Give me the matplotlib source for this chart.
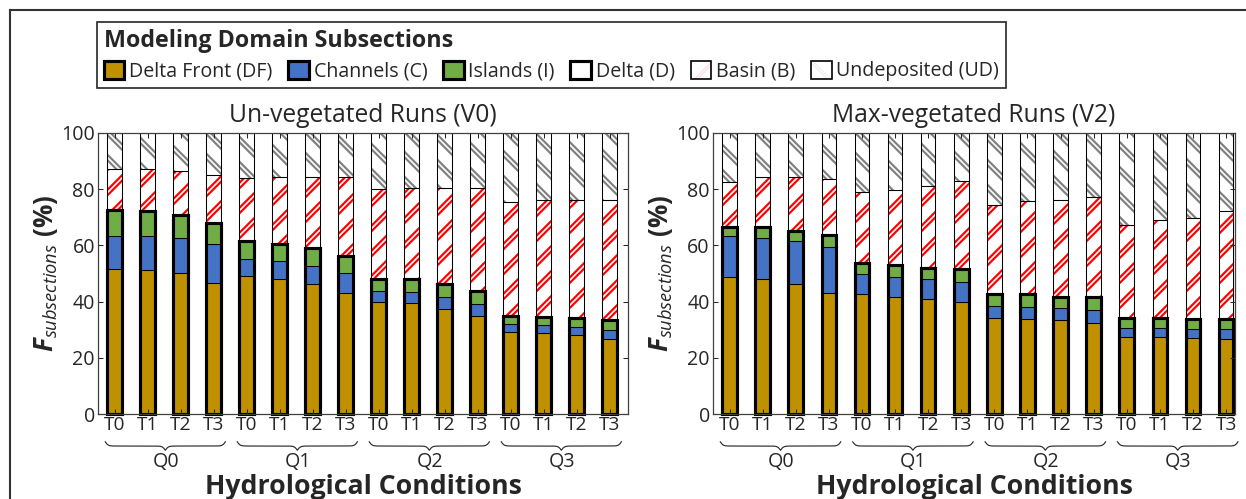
import numpy as np
import matplotlib
matplotlib.use('Agg')
import matplotlib.pyplot as plt
from matplotlib.patches import Patch
from matplotlib.legend_handler import HandlerTuple
from matplotlib.lines import Line2D
import matplotlib.transforms as mtransforms

W, H, DPI = 1246, 499, 150
FONT = 'Open Sans'

plt.rcParams['font.family'] = [FONT, 'DejaVu Sans']
plt.rcParams['mathtext.fontset'] = 'custom'
plt.rcParams['mathtext.rm'] = FONT
plt.rcParams['mathtext.it'] = FONT + ':italic'
plt.rcParams['mathtext.bf'] = FONT + ':bold'
try:
    plt.rcParams['mathtext.bfit'] = FONT + ':italic:bold'
except KeyError:
    pass

# ---------------- data ----------------
hydro_groups = ['Q0', 'Q1', 'Q2', 'Q3']
time_labels = ['T0', 'T1', 'T2', 'T3']
tick_labels = time_labels * 4
panel_titles = ['Un-vegetated Runs (V0)', 'Max-vegetated Runs (V2)']
legend_labels = ['Delta Front (DF)', 'Channels (C)', 'Islands (I)',
                 'Delta (D)', 'Basin (B)', 'Undeposited (UD)']

# Un-vegetated (V0): segment sizes in %
v0_df = [51.7, 51.3, 50.1, 46.6, 49.2, 48.1, 46.3, 43.1, 40.0, 39.5, 37.5, 34.7, 29.3, 28.7, 28.0, 26.8]
v0_c = [11.7, 12.0, 12.5, 14.0, 6.0, 6.2, 6.2, 7.0, 3.9, 4.0, 4.1, 4.5, 2.8, 2.8, 2.9, 3.1]
v0_i = [9.3, 9.1, 8.3, 7.3, 6.5, 6.3, 6.6, 6.1, 4.2, 4.5, 4.7, 4.7, 2.9, 3.1, 3.2, 3.6]
v0_b = [14.6, 14.8, 15.7, 17.2, 22.3, 23.7, 25.3, 28.2, 31.8, 32.6, 34.3, 36.7, 40.5, 41.4, 42.2, 42.7]
v0_ud = [12.7, 12.8, 13.4, 14.9, 16.0, 15.7, 15.6, 15.6, 20.1, 19.4, 19.4, 19.4, 24.5, 24.0, 23.7, 23.8]

# Max-vegetated (V2): segment sizes in %
v2_df = [48.6, 48.1, 46.3, 43.0, 42.6, 41.8, 41.0, 39.7, 34.3, 33.8, 33.5, 32.3, 27.4, 27.3, 27.0, 26.6]
v2_c = [14.6, 14.6, 15.1, 16.3, 7.2, 7.1, 7.1, 7.4, 4.3, 4.4, 4.4, 4.7, 3.3, 3.2, 3.3, 3.6]
v2_i = [3.5, 3.7, 3.8, 4.5, 3.9, 4.1, 4.0, 4.6, 4.1, 4.4, 3.9, 4.8, 3.4, 3.6, 3.4, 3.5]
v2_b = [15.8, 17.8, 19.1, 19.7, 25.3, 26.8, 29.1, 31.3, 31.8, 33.3, 34.2, 35.5, 33.2, 35.0, 36.0, 38.4]
v2_ud = [17.5, 15.8, 15.7, 16.5, 21.0, 20.2, 18.8, 17.0, 25.5, 24.1, 24.0, 22.7, 32.7, 30.9, 30.3, 27.9]

# ---------------- style ----------------
GOLD = '#BF9000'
BLUE = '#4472C4'
GREEN = '#70AD47'
RED = '#FF0000'
GRAY = '#808080'
DARK = '#262626'
HATCH_WIDE = 2.9
HATCH_GAP = 0.8
BAR_W = 0.44
HATCH_B = '//'
HATCH_UD = '\\\\'


def set_hlw(patches, lw):
    for p in patches:
        if hasattr(p, 'set_hatch_linewidth'):
            p.set_hatch_linewidth(lw)


def double_hatch(ax, x, h, bottom, color, hatch):
    b1 = ax.bar(x, h, bottom=bottom, width=BAR_W, color='white', edgecolor=color,
                linewidth=0, hatch=hatch, zorder=1)
    set_hlw(b1, HATCH_WIDE)
    b2 = ax.bar(x, h, bottom=bottom, width=BAR_W, color='none', edgecolor='white',
                linewidth=0, hatch=hatch, zorder=1.1)
    set_hlw(b2, HATCH_GAP)
    ax.bar(x, h, bottom=bottom, width=BAR_W, fill=False, edgecolor='black',
           linewidth=0.5, zorder=1.2)


def brace(ax, x0, x1, y_top, depth, beta=22.0, n=301):
    trans = mtransforms.blended_transform_factory(ax.transData, ax.transAxes)
    xm = 0.5 * (x0 + x1)
    xa = np.linspace(x0, xm, n // 2 + 1)
    ya = 1.0 / (1.0 + np.exp(-beta * (xa - x0))) + 1.0 / (1.0 + np.exp(-beta * (xa - xm)))
    xs = np.concatenate([xa, (2 * xm - xa)[-2::-1]])
    ys = np.concatenate([ya, ya[-2::-1]])
    ys = y_top - (ys - 0.5) * depth
    ax.plot(xs, ys, transform=trans, color=DARK, lw=0.55, clip_on=False)


def draw_panel(ax, df, ch, isl, bas, ud, title, xlim):
    x = np.arange(len(df))
    df = np.array(df); ch = np.array(ch); isl = np.array(isl)
    bas = np.array(bas); ud = np.array(ud)
    ax.bar(x, df, width=BAR_W, color=GOLD, edgecolor='black', linewidth=0.5, zorder=1)
    ax.bar(x, ch, bottom=df, width=BAR_W, color=BLUE, edgecolor='black', linewidth=0.5, zorder=1)
    ax.bar(x, isl, bottom=df + ch, width=BAR_W, color=GREEN, edgecolor='black', linewidth=0.5, zorder=1)
    delta = df + ch + isl
    double_hatch(ax, x, bas, delta, RED, HATCH_B)
    double_hatch(ax, x, ud, delta + bas, GRAY, HATCH_UD)
    ax.bar(x, delta, width=BAR_W, fill=False, edgecolor='black', linewidth=1.5,
           zorder=1.5, clip_on=False)

    ax.set_xlim(*xlim)
    ax.set_ylim(0, 100)
    ax.set_xticks(x)
    ax.set_xticklabels(tick_labels)
    ax.set_yticks(np.arange(0, 101, 20))
    ax.tick_params(axis='x', direction='in', top=True, bottom=True, length=2.2,
                   width=0.5, pad=1.2, labelsize=9.2, color=DARK, labelcolor=DARK)
    ax.tick_params(axis='y', direction='in', left=True, right=True, length=2.2,
                   width=0.5, pad=1.5, labelsize=9.4, color=DARK, labelcolor=DARK)
    for s in ax.spines.values():
        s.set_color('#404040')
        s.set_linewidth(0.6)
    ax.set_title(title, fontsize=11.8, pad=5.5, color=DARK)
    ax.set_ylabel(r'$\mathbfit{F}_{\mathit{subsections}}\ \mathbf{(\%)}$',
                  fontsize=12.5, color=DARK)
    ax.yaxis.set_label_coords(-0.072, 0.5)
    ax.set_xlabel('Hydrological Conditions', fontsize=12.8, fontweight='bold', color=DARK)
    ax.xaxis.set_label_coords(0.5, -0.215)

    trans = mtransforms.blended_transform_factory(ax.transData, ax.transAxes)
    for g, q in enumerate(hydro_groups):
        brace(ax, 4 * g - 0.28, 4 * g + 3.36, -0.099, 0.03)
        ax.text(4 * g + 1.55, -0.17, q, transform=trans, ha='center', va='center',
                fontsize=9.4, color=DARK)


fig = plt.figure(figsize=(W / DPI, H / DPI), dpi=DPI)
ax1 = fig.add_axes([98 / W, 1 - 414 / H, (628 - 98) / W, (414 - 133) / H])
ax2 = fig.add_axes([713 / W, 1 - 414 / H, (1235 - 713) / W, (414 - 133) / H])

draw_panel(ax1, v0_df, v0_c, v0_i, v0_b, v0_ud, panel_titles[0], (-0.5, 15.56))
draw_panel(ax2, v2_df, v2_c, v2_i, v2_b, v2_ud, panel_titles[1], (-0.5, 15.27))

# figure frame (top and left lines)
fig.add_artist(Line2D([10 / W, 1.0], [1 - 10 / H, 1 - 10 / H], transform=fig.transFigure,
                      color='#333333', lw=1.0))
fig.add_artist(Line2D([10 / W, 10 / W], [0.0, 1 - 10 / H], transform=fig.transFigure,
                      color='#333333', lw=1.0))


# legend
def hatched_handle(color, hatch):
    a = Patch(facecolor='white', edgecolor=color, linewidth=0, hatch=hatch)
    b = Patch(facecolor='none', edgecolor='white', linewidth=0, hatch=hatch)
    set_hlw([a], HATCH_WIDE)
    set_hlw([b], HATCH_GAP)
    c = Patch(facecolor='none', edgecolor='black', linewidth=0.8)
    return (a, b, c)


handles = [
    Patch(facecolor=GOLD, edgecolor='black', linewidth=1.5),
    Patch(facecolor=BLUE, edgecolor='black', linewidth=1.5),
    Patch(facecolor=GREEN, edgecolor='black', linewidth=1.5),
    Patch(facecolor='white', edgecolor='black', linewidth=1.5),
    hatched_handle(RED, HATCH_B),
    hatched_handle(GRAY, HATCH_UD),
]
leg = fig.legend(handles, legend_labels, loc='upper left',
                 bbox_to_anchor=(97 / W, 1 - 22 / H), ncol=6,
                 title='Modeling Domain Subsections',
                 title_fontproperties={'weight': 'bold', 'size': 11.2},
                 fontsize=9.4, frameon=True, fancybox=False, edgecolor=DARK,
                 framealpha=1, handlelength=1.05, handleheight=1.05,
                 handletextpad=0.25, columnspacing=0.8, borderpad=0.35,
                 borderaxespad=0, labelspacing=0.4, alignment='left',
                 handler_map={tuple: HandlerTuple(ndivide=1, pad=0)})
leg.get_frame().set_linewidth(0.8)
for t in leg.get_texts():
    t.set_color(DARK)
leg.get_title().set_color(DARK)

fig.savefig('out.png', dpi=DPI)
